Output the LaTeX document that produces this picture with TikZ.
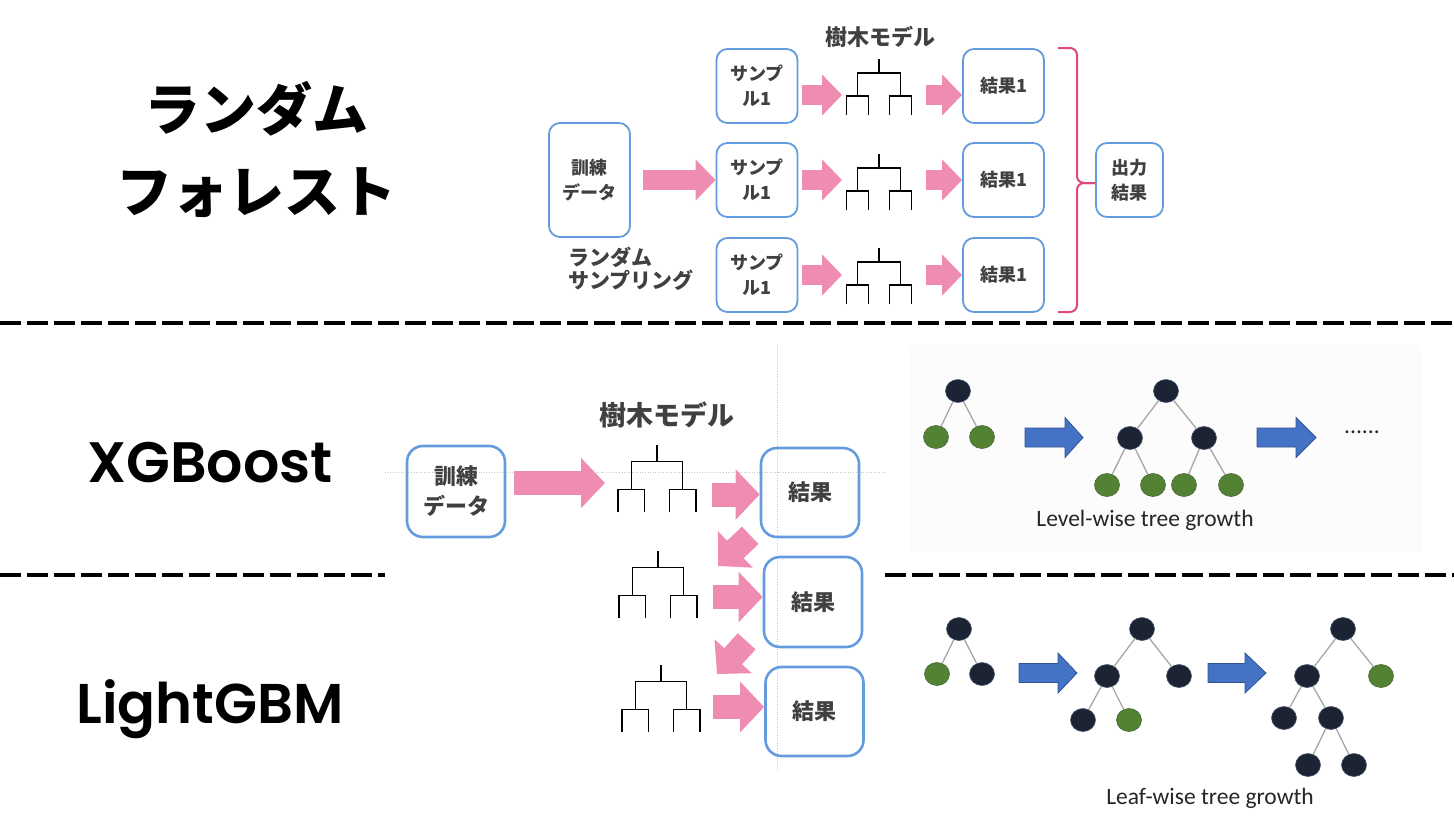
\documentclass[tikz,border=0pt]{standalone}
\usepackage{fontspec}
\newfontfamily\jp{Noto Sans CJK JP}
\newfontfamily\pop{Poppins SemiBold}
\newfontfamily\carl{Carlito}
\usetikzlibrary{arrows.meta,shapes.geometric}
\definecolor{boxblue}{RGB}{100,155,222}
\definecolor{pinkA}{RGB}{238,140,178}
\definecolor{braceC}{RGB}{222,72,122}
\definecolor{txt}{RGB}{64,64,64}
\definecolor{navy}{RGB}{28,36,52}
\definecolor{navyE}{RGB}{70,85,110}
\definecolor{leafG}{RGB}{84,130,53}
\definecolor{leafE}{RGB}{70,105,50}
\definecolor{blueA}{RGB}{68,114,196}
\definecolor{blueE}{RGB}{47,85,151}
\definecolor{edgeG}{RGB}{166,166,166}
\newcommand{\bluearrow}[4]{%
  \draw[blueE, fill=blueA, line width=0.8pt] (#1,#4-9.5) -- (#3,#4-9.5) -- (#3,#4-20) -- (#2,#4) -- (#3,#4+20) -- (#3,#4+9.5) -- (#1,#4+9.5) -- cycle;}
\tikzset{
  box/.style={draw=boxblue, line width=1.8pt, rounded corners=11pt, inner sep=0pt, align=center, text=txt,
    font=\jp\bfseries\fontsize{18}{25}\selectfont, minimum width=81pt, minimum height=74pt},
  bigbox/.style={draw=boxblue, line width=2.6pt, rounded corners=16pt, inner sep=0pt, align=center, text=txt,
    font=\jp\bfseries\fontsize{22}{30}\selectfont, minimum width=98pt, minimum height=90pt},
  parrow/.style={draw=pinkA, line width=20pt, -{Triangle[length=20pt,width=40pt]}},
  parrowB/.style={draw=pinkA, line width=24pt, -{Triangle[length=24pt,width=49pt]}},
  dnode/.style={ellipse, fill=navy, draw=navyE, line width=0.6pt, minimum width=25pt, minimum height=23pt, inner sep=0pt},
  gnode/.style={dnode, fill=leafG, draw=leafE},
  gedge/.style={draw=edgeG, line width=1.3pt},
  sepline/.style={line width=4pt, dash pattern=on 21pt off 6pt},
  guide/.style={draw=black!22, line width=0.6pt, dotted},
  lbl/.style={text=txt, font=\jp\bfseries\fontsize{22}{26}\selectfont},
  growlbl/.style={text=black!85, font=\carl\fontsize{23.5}{26}\selectfont},
  rftree/.pic={\draw[line width=1.3pt] (0,0) -- (0,14) (-21.5,37) -- (-21.5,14) -- (21.5,14) -- (21.5,37)
     (-32.5,56) -- (-32.5,37) -- (-10.5,37) -- (-10.5,56) (10.5,56) -- (10.5,37) -- (32.5,37) -- (32.5,56);}
}
\begin{document}
\begin{tikzpicture}[x=1pt,y=-1pt]
\useasboundingbox (0,0) rectangle (1454,820);
% separators
\draw[sepline] (0,323) -- (1454,323);
\draw[sepline] (0,575) -- (385,575);
\draw[sepline] (885,575) -- (1454,575);
% titles
\node[font=\jp\bfseries\fontsize{56}{82}\selectfont, align=center] (rf) at (256,149) {ランダム\\フォレスト};
\node[font=\pop\fontsize{57}{60}\selectfont, anchor=base] (xgb) at (210,482) {XGBoost};
\node[font=\pop\fontsize{56}{60}\selectfont, anchor=base] (lgbm) at (210,723) {LightGBM};

% ---------- random forest ----------
\node[lbl, font=\jp\bfseries\fontsize{22}{26}\selectfont] (rfmodel) at (880,37) {樹木モデル};
\node[box, minimum height=114pt] (train) at (589.5,180) {訓練\\データ};
\node[box] (s1) at (757,86) {サンプ\\ル1};
\node[box] (s2) at (757,180) {サンプ\\ル1};
\node[box] (s3) at (757,275) {サンプ\\ル1};
\node[box] (r1) at (1003.5,86) {結果1};
\node[box] (r2) at (1003.5,180) {結果1};
\node[box] (r3) at (1003.5,275) {結果1};
\node[box, minimum width=67pt] (out) at (1129.5,180) {出力\\結果};
\node[text=txt, font=\jp\bfseries\fontsize{21}{23}\selectfont, align=left, anchor=west] (rs) at (565,269) {ランダム\\サンプリング};
\pic at (879,59) {rftree};
\pic at (879,154) {rftree};
\pic at (879,248) {rftree};
\coordinate (t1in) at (842,95);  \coordinate (t1out) at (926,95);
\coordinate (t2in) at (842,180); \coordinate (t2out) at (926,180);
\coordinate (t3in) at (842,275); \coordinate (t3out) at (926,275);
\draw[parrow, shorten <=12pt] (train.east) -- (s2.west);
\draw[parrow, shorten <=4pt] (s1.east |- t1in) -- (t1in);
\draw[parrow, shorten <=4pt] (s2.east |- t2in) -- (t2in);
\draw[parrow, shorten <=4pt] (s3.east |- t3in) -- (t3in);
\draw[parrow] (t1out) -- (r1.west |- t1out);
\draw[parrow] (t2out) -- (r2.west |- t2out);
\draw[parrow] (t3out) -- (r3.west |- t3out);
\draw[braceC, line width=2pt, rounded corners=7pt] (1058,48) -- (1077,48) -- (1077,183) -- ([yshift=-3pt]out.west);
\draw[braceC, line width=2pt, rounded corners=7pt] (1058,312) -- (1077,312) -- (1077,183) -- ([yshift=-3pt]out.west);

% ---------- XGBoost ----------
\draw[guide] (385,472) -- (885,472);
\draw[guide] (777,345) -- (777,770);
\node[lbl, font=\jp\bfseries\fontsize{27}{30}\selectfont] (xmodel) at (667,415) {樹木モデル};
\node[bigbox, minimum height=91pt] (xtrain) at (456,491.5) {訓練\\データ};
\node[bigbox, minimum height=89pt] (xr1) at (810,492.5) {結果};
\node[bigbox] (xr2) at (813,602) {結果};
\node[bigbox, minimum height=89pt] (xr3) at (814.5,711.5) {結果};
\pic[scale=1.2] at (657,445) {rftree};
\pic[scale=1.2] at (658,551) {rftree};
\pic[scale=1.2] at (661,665) {rftree};
\coordinate (x1in) at (605,483);
\coordinate (x1out) at (712,494.5);
\coordinate (x2tip) at (718,566);
\coordinate (x2out) at (713,597);
\coordinate (x3tip) at (717,674);
\coordinate (x3out) at (713,707);
\draw[parrowB, shorten <=8pt] (xtrain.east |- x1in) -- (x1in);
\draw[parrowB] (x1out) -- (xr1.west |- x1out);
\draw[parrowB] ([shift={(-9.5,-3)}]xr1.south west) -- (x2tip);
\draw[parrowB] (x2out) -- (xr2.west |- x2out);
\draw[parrowB] ([shift={(-16,-7)}]xr2.south west) -- (x3tip);
\draw[parrowB] (x3out) -- (xr3.west |- x3out);

% ---------- level-wise ----------
\fill[black!1.2] (910,345) rectangle (1422,552);
\node[dnode] (A0) at (958,391) {};
\node[gnode] (A1) at (936,437) {};
\node[gnode] (A2) at (982,437) {};
\draw[gedge] (A0) -- (A1) (A0) -- (A2);
\bluearrow{1025}{1083}{1065}{437.5}
\node[dnode] (B0) at (1166,391) {};
\node[dnode] (B1) at (1130,438) {};
\node[dnode] (B2) at (1204,438) {};
\node[gnode] (B3) at (1107,485) {};
\node[gnode] (B4) at (1153,485) {};
\node[gnode] (B5) at (1184,485) {};
\node[gnode] (B6) at (1231,485) {};
\draw[gedge] (B0) -- (B1) (B0) -- (B2) (B1) -- (B3) (B1) -- (B4) (B2) -- (B5) (B2) -- (B6);
\bluearrow{1257}{1316}{1296}{437.5}
\node[growlbl] (dots) at (1362,432) {......};
\node[growlbl] (lvl) at (1145,520) {Level-wise tree growth};

% ---------- leaf-wise ----------
\node[dnode] (C0) at (959,629) {};
\node[gnode] (C1) at (937,674) {};
\node[dnode] (C2) at (982,674) {};
\draw[gedge] (C0) -- (C1) (C0) -- (C2);
\bluearrow{1019}{1077}{1058}{673}
\node[dnode] (D0) at (1142,629) {};
\node[dnode] (D1) at (1107,676) {};
\node[dnode] (D2) at (1179,676) {};
\node[dnode] (D3) at (1083,720) {};
\node[gnode] (D4) at (1129,720) {};
\draw[gedge] (D0) -- (D1) (D0) -- (D2) (D1) -- (D3) (D1) -- (D4);
\bluearrow{1208}{1266}{1245}{673}
\node[dnode] (E0) at (1343,629) {};
\node[dnode] (E1) at (1307,676) {};
\node[gnode] (E2) at (1381,676) {};
\node[dnode] (E3) at (1284,718) {};
\node[dnode] (E4) at (1331,718) {};
\node[dnode] (E5) at (1308,765) {};
\node[dnode] (E6) at (1354,765) {};
\draw[gedge] (E0) -- (E1) (E0) -- (E2) (E1) -- (E3) (E1) -- (E4) (E4) -- (E5) (E4) -- (E6);
\node[growlbl] (lfl) at (1210,798) {Leaf-wise tree growth};
\end{tikzpicture}
\end{document}
